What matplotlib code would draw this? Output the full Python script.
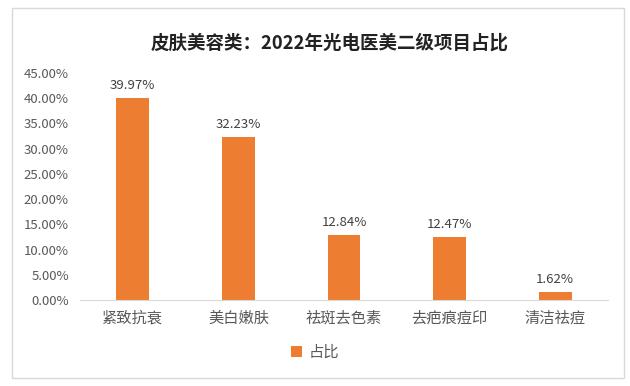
import matplotlib
matplotlib.use("Agg")
import matplotlib.pyplot as plt
from matplotlib.patches import Rectangle
from matplotlib.ticker import FuncFormatter, MultipleLocator

plt.rcParams['font.family'] = ['Noto Sans CJK SC', 'DejaVu Sans']

categories = ["紧致抗衰", "美白嫩肤", "祛斑去色素", "去疤痕痘印", "清洁祛痘"]
shares = [0.3997, 0.3223, 0.1284, 0.1247, 0.0162]
series_name = "占比"
title = "皮肤美容类：2022年光电医美二级项目占比"

orange = '#ED7D31'
gray = '#595959'

fig = plt.figure(figsize=(6.3, 3.86), dpi=100)
fig.patch.set_facecolor('white')

# outer chart border
fig.patches.append(Rectangle((12 / 630, 8 / 386), 612 / 630, 370 / 386,
                             transform=fig.transFigure, fill=False,
                             edgecolor='#d9d9d9', linewidth=1.0))

ax = fig.add_axes([80 / 630, (386 - 300) / 386, 528 / 630, 227 / 386])
x = list(range(len(categories)))
bars = ax.bar(x, shares, width=0.31, color=orange, label=series_name, zorder=2)

for xi, v in zip(x, shares):
    ax.text(xi, v + 0.012, f"{v * 100:.2f}%", ha='center', va='bottom',
            fontsize=9.5, color='#404040')

ax.set_xlim(-0.5, len(categories) - 0.5)
ax.set_ylim(0, 0.45)
ax.yaxis.set_major_locator(MultipleLocator(0.05))
ax.yaxis.set_major_formatter(FuncFormatter(lambda v, p: f"{v * 100:.2f}%"))
ax.set_xticks(x)
ax.set_xticklabels(categories, fontsize=11, color=gray)
ax.tick_params(axis='y', labelsize=9.5, colors=gray, length=0, pad=8)
ax.tick_params(axis='x', length=0, pad=7)

for s in ['top', 'right', 'left']:
    ax.spines[s].set_visible(False)
ax.spines['bottom'].set_color('#d9d9d9')

fig.text(330 / 630, (386 - 43) / 386, title, ha='center', va='center',
         fontsize=13.3, fontweight='bold', color='#222222')

leg = fig.legend(handles=[bars], labels=[series_name], loc='center',
                 bbox_to_anchor=(0.5, (386 - 352) / 386), frameon=False,
                 fontsize=11, handlelength=0.7, handleheight=0.7,
                 handletextpad=0.4)
for t in leg.get_texts():
    t.set_color(gray)

fig.savefig("out.png", dpi=100)
